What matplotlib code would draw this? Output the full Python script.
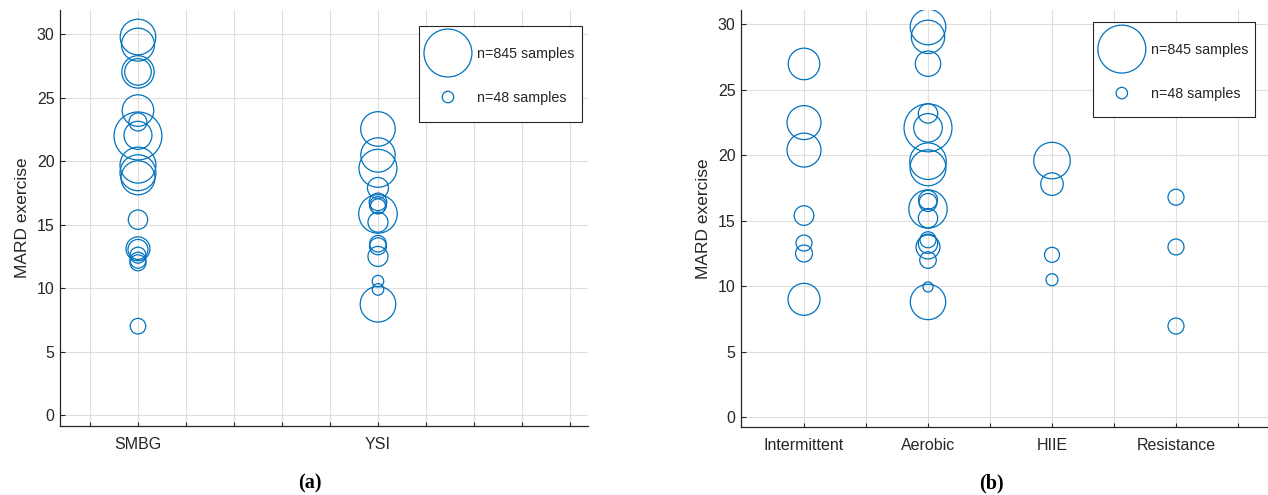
"""
plot.py — MARD during exercise, bubble size ~ number of paired samples

  (a) grouped by reference method (SMBG / YSI)
  (b) grouped by exercise type
"""

import matplotlib
matplotlib.use("Agg")
import matplotlib.pyplot as plt
from matplotlib.patches import Rectangle
import numpy as np

# ── Data ─────────────────────────────────────────────────────────────────────
ref_categories = ["SMBG", "YSI"]

smbg_mard = [29.8, 29.2, 27.05, 27.05, 24.0, 23.1, 22.0, 22.05, 19.7, 19.1,
             18.7, 15.4, 13.1, 13.05, 12.6, 12.2, 12.0, 7.0]
smbg_n    = [465, 400, 385, 260, 366, 119, 845, 288, 475, 475,
             424, 138, 211, 147, 94, 94, 94, 89]

ysi_mard  = [22.55, 20.5, 19.45, 17.9, 16.8, 16.55, 16.45, 15.85, 15.2,
             13.5, 13.3, 12.5, 10.55, 9.9, 8.73]
ysi_n     = [439, 434, 530, 162, 114, 106, 83, 546, 147,
             101, 106, 147, 49, 49, 465]

ex_categories = ["Intermittent", "Aerobic", "HIIE", "Resistance"]

interm_mard = [26.98, 22.5, 20.4, 15.4, 13.3, 12.5, 9.0]
interm_n    = [366, 424, 424, 141, 94, 106, 376]

aerobic_mard = [29.8, 29.05, 27.0, 23.2, 22.1, 22.1, 19.55, 19.05, 16.6,
                16.4, 15.9, 15.2, 13.55, 13.25, 13.0, 12.0, 9.95, 8.8]
aerobic_n    = [465, 409, 237, 138, 845, 300, 491, 475, 132,
                119, 541, 138, 94, 138, 211, 101, 37, 460]

hiie_mard = [19.6, 17.8, 12.4, 10.5]
hiie_n    = [491, 187, 83, 53]

resist_mard = [16.8, 13.0, 6.96]
resist_n    = [94, 94, 94]

legend_n = [845, 48]

# ── Style ────────────────────────────────────────────────────────────────────
BLUE      = "#0072BD"
AXIS_GREY = "#262626"
GRID_GREY = "#dedede"
PT2_PER_SAMPLE = 1.41          # marker area (pt^2) per sample

plt.rcParams["font.family"] = ["Liberation Sans", "DejaVu Sans"]


def size_legend(ax, right, top, box_w=163, box_h=96):
    """Bubble-size key drawn by hand (MATLAB-style box); right/top in axes
    fraction, inner layout in pixels."""
    bb = ax.get_window_extent()
    fx = lambda dx: right - (box_w - dx) / bb.width     # dx from box left
    fy = lambda dy: top - dy / bb.height                # dy from box top

    ax.add_patch(Rectangle((fx(0), fy(box_h)), box_w / bb.width,
                           box_h / bb.height, transform=ax.transAxes,
                           facecolor="white", edgecolor=AXIS_GREY,
                           linewidth=0.8, zorder=5, clip_on=False))
    for n, dy in zip(legend_n, (27, 71)):
        ax.scatter([fx(29)], [fy(dy)], s=n * PT2_PER_SAMPLE,
                   transform=ax.transAxes, facecolors="none",
                   edgecolors=BLUE, linewidths=0.9, zorder=6, clip_on=False)
        ax.text(fx(58), fy(dy + 1), f"n={n} samples", transform=ax.transAxes,
                ha="left", va="center", fontsize=10.3, color=AXIS_GREY,
                zorder=6)


def bubble_panel(ax, groups, categories, xticks, xlim, ylim):
    for pos, (mard, n) in enumerate(groups, start=1):
        ax.scatter(np.full(len(mard), pos), mard,
                   s=np.asarray(n) * PT2_PER_SAMPLE,
                   facecolors="none", edgecolors=BLUE, linewidths=0.9,
                   zorder=3)

    labels = []
    for t in xticks:
        k = int(round(t))
        if abs(t - k) < 1e-6 and 1 <= k <= len(categories):
            labels.append(categories[k - 1])
        else:
            labels.append("")
    ax.set_xticks(xticks)
    ax.set_xticklabels(labels)
    ax.set_yticks(np.arange(0, 31, 5))
    ax.set_xlim(*xlim)
    ax.set_ylim(*ylim)

    ax.set_ylabel("MARD exercise", fontsize=12.5, color=AXIS_GREY, labelpad=5)
    ax.tick_params(axis="both", direction="in", colors=AXIS_GREY,
                   labelsize=11.5, width=0.8)
    ax.tick_params(axis="x", length=3.2, pad=8)
    ax.tick_params(axis="y", length=3.6, pad=4)

    for side in ("top", "right"):
        ax.spines[side].set_visible(False)
    for side in ("left", "bottom"):
        ax.spines[side].set_color(AXIS_GREY)
        ax.spines[side].set_linewidth(0.9)

    ax.grid(True, color=GRID_GREY, linewidth=0.8, zorder=0)
    ax.set_axisbelow(True)


# ── Figure ───────────────────────────────────────────────────────────────────
fig = plt.figure(figsize=(12.68, 4.95), dpi=100)

ax_a = fig.add_axes([0.0473, 0.1394, 0.4164, 0.8404])
bubble_panel(ax_a,
             [(smbg_mard, smbg_n), (ysi_mard, ysi_n)],
             ref_categories,
             xticks=np.arange(0.8, 2.81, 0.2),
             xlim=(0.675, 2.875), ylim=(-0.87, 31.93))
size_legend(ax_a, right=0.9886, top=0.9615)

ax_b = fig.add_axes([0.5844, 0.1374, 0.4156, 0.8424])
bubble_panel(ax_b,
             [(interm_mard, interm_n), (aerobic_mard, aerobic_n),
              (hiie_mard, hiie_n), (resist_mard, resist_n)],
             ex_categories,
             xticks=np.arange(1.0, 4.51, 0.5),
             xlim=(0.492, 4.742), ylim=(-0.75, 31.1))
size_legend(ax_b, right=0.975, top=0.971, box_w=162, box_h=95)

for x, tag in [(0.2445, "(a)"), (0.782, "(b)")]:
    fig.text(x, 0.024, tag, ha="center", va="center", fontsize=14.5,
             fontweight="bold", family=["Liberation Serif", "DejaVu Serif"])

fig.savefig("out.png", dpi=100)
